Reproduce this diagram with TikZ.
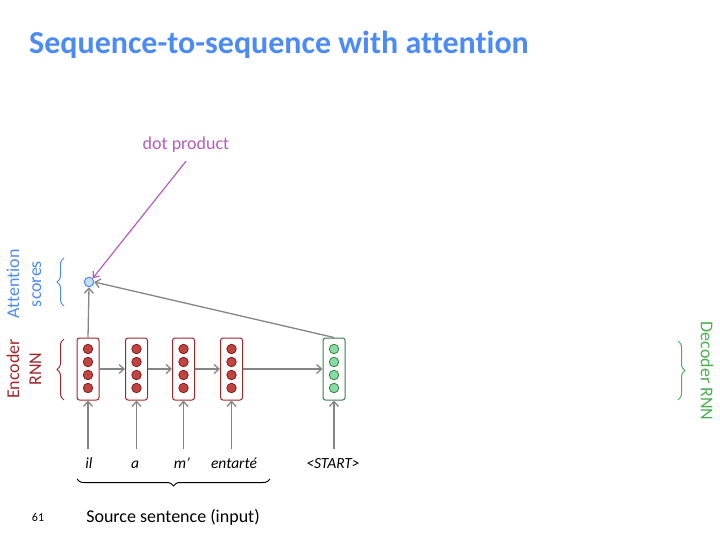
\documentclass[tikz,border=0pt]{standalone}
\usepackage{fontspec}
\setmainfont{Carlito}[Ligatures=NoCommon]
\usetikzlibrary{arrows.meta,decorations.pathreplacing,calc}
\definecolor{titleblue}{HTML}{4C8BF5}
\definecolor{encred}{HTML}{A3262A}
\definecolor{dotred}{HTML}{C0443F}
\definecolor{decgreen}{HTML}{3A8049}
\definecolor{dotgreen}{HTML}{86DDA3}
\definecolor{labgreen}{HTML}{4CAF50}
\definecolor{arrgrey}{HTML}{858585}
\definecolor{purp}{HTML}{B45CC0}
\definecolor{scblue}{HTML}{C9DCFF}
\tikzset{
  encbox/.style={draw=encred, line width=1pt, rounded corners=2.5pt, minimum width=22pt, minimum height=62pt, fill=white},
  decbox/.style={draw=decgreen, line width=1pt, rounded corners=2.5pt, minimum width=22pt, minimum height=62pt, fill=white},
  rdot/.style={circle, draw=encred!80!black, fill=dotred, line width=0.8pt, minimum size=9.5pt, inner sep=0pt},
  gdot/.style={circle, draw=decgreen, fill=dotgreen, line width=0.8pt, minimum size=9.5pt, inner sep=0pt},
  garr/.style={draw=arrgrey, line width=1.3pt, -{Straight Barb[length=5pt,width=9pt]}},
  word/.style={font=\fontsize{15.5}{17}\selectfont\itshape, anchor=base},
  brc/.style={decorate, decoration={brace, amplitude=7pt}, line width=1pt},
}
\begin{document}
\begin{tikzpicture}[x=1pt,y=-1pt]
\useasboundingbox (0,0) rectangle (720,540);
\node[anchor=base west, text=titleblue, font=\fontsize{32}{36}\selectfont\bfseries, inner sep=0pt] (title) at (29,54) {Sequence-to-sequence with attention};

% encoder boxes
\foreach \n/\x in {e1/88, e2/136.5, e3/183.5, e4/231.5}{
  \node[encbox] (\n) at (\x,369) {};
  \foreach \k/\y in {1/349,2/362,3/375,4/388}{
    \node[rdot] (\n d\k) at (\x,\y) {};
  }
}
\node[decbox] (d1) at (334,369) {};
\foreach \k/\y in {1/349,2/362,3/375,4/388}{
  \node[gdot] (d1d\k) at (334,\y) {};
}

% horizontal arrows
\draw[garr] (e1.east |- 0,369) -- (e2.west |- 0,369);
\draw[garr] (e2.east |- 0,369) -- (e3.west |- 0,369);
\draw[garr] (e3.east |- 0,369) -- (e4.west |- 0,369);
\draw[garr] (e4.east |- 0,369) -- (d1.west |- 0,369);

% words
\node[word] (w1) at (89,468) {il};
\node[word] (w2) at (135,468) {a};
\node[word] (w3) at (182,468) {m’};
\node[word] (w4) at (234,468) {entarté};
\node[word] (w5) at (333,468) {<START>};
\foreach \w/\b in {w1/e1,w2/e2,w3/e3,w4/e4,w5/d1}{
  \draw[garr] ($(\b.south)+(0,48)$) -- (\b.south);
}

% attention score
\node[circle, draw=titleblue, fill=scblue, line width=1pt, minimum size=9.5pt, inner sep=0pt] (att) at (89,282) {};
\draw[garr] (e1.north) -- (att.south);
\draw[garr] (d1.north) -- (att.east);

% dot product
\node[text=purp, font=\fontsize{18}{20}\selectfont] (dp) at (186,145) {dot product};
\draw[draw=purp, line width=1.2pt, -{Straight Barb[length=5pt,width=8pt]}] (dp.south) ++(0,5) -- (att.north east);

% left labels
\node[rotate=90, align=center, text=titleblue, font=\fontsize{18}{22}\selectfont] (attlab) at (24,284) {Attention\\scores};
\node[rotate=90, align=center, text=encred, font=\fontsize{18}{22}\selectfont] (enclab) at (24,369) {Encoder\\RNN};
\draw[brc, draw=titleblue] (64,306) -- (64,258);
\draw[brc, draw=encred] (64,400) -- (64,339);

% right label
\node[rotate=-90, text=labgreen, font=\fontsize{18}{22}\selectfont] (declab) at (707,371) {Decoder RNN};
\draw[brc, draw=labgreen] (678,341) -- (678,400);

% bottom
\draw[brc, draw=black] (270,479) -- (77,479);
\node[font=\fontsize{18}{20}\selectfont, anchor=base] (src) at (173,522) {Source sentence (input)};
\node[font=\fontsize{12}{13}\selectfont, anchor=base] (pg) at (38,521) {61};
\end{tikzpicture}
\end{document}
